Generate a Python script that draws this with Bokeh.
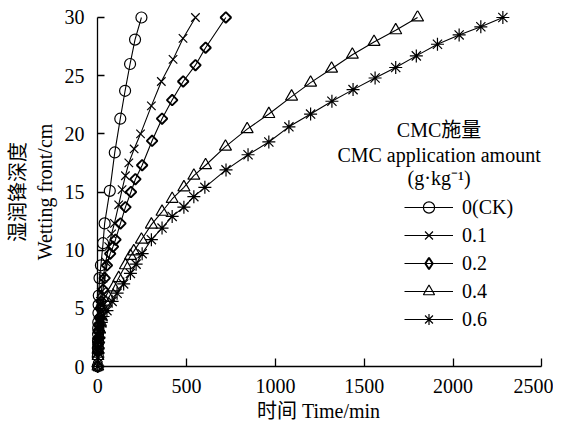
from math import pi
from bokeh.plotting import figure
from bokeh.models import Range1d, Legend, LegendItem, Label, FixedTicker, LinearAxis
from bokeh.embed import file_html
from bokeh.resources import INLINE

# CMC application amount 0 (CK)
t_ck = [0, 0.5, 1, 1.5, 2, 2.5, 3, 4, 5, 6, 10, 18, 30, 39, 68, 96, 127, 154, 182, 210, 246]
d_ck = [0, 0.9, 1.6, 2.2, 2.8, 3.3, 3.8, 4.6, 5.3, 6.1, 7.6, 8.7, 10.6, 12.3, 15.1, 18.4, 21.3, 23.7, 26.0, 28.1, 30.0]

# 0.1 g/kg
t_01 = [0, 1, 2, 3, 5, 7, 10, 15, 20, 30, 45, 62, 78, 94, 118, 137, 156, 175, 205, 241, 302, 358, 424, 480, 550]
d_01 = [0, 1.4, 2.1, 2.6, 3.4, 4.0, 4.7, 5.6, 6.4, 7.6, 9.0, 10.3, 11.4, 12.3, 13.9, 15.2, 16.4, 17.5, 18.7, 20.0, 22.4, 24.5, 26.4, 28.2, 30.0]

# 0.2 g/kg
t_02 = [0, 1, 2, 3, 5, 7, 10, 15, 20, 30, 39, 52, 70, 86, 100, 128, 156, 187, 212, 250, 306, 362, 419, 481, 550, 607, 721]
d_02 = [0, 1.3, 1.9, 2.4, 3.1, 3.6, 4.2, 5.0, 5.6, 6.6, 7.6, 8.7, 9.7, 10.3, 10.9, 12.3, 13.7, 15.0, 16.1, 17.3, 19.4, 21.3, 22.9, 24.5, 25.9, 27.4, 30.0]

# 0.4 g/kg
t_04 = [0, 1, 2, 3, 5, 7, 10, 15, 20, 30, 45, 62, 90, 118, 156, 184, 203, 246, 302, 362, 419, 485, 541, 607, 719, 841, 963, 1091, 1198, 1316, 1433, 1555, 1677, 1800]
d_04 = [0, 0.9, 1.4, 1.8, 2.3, 2.7, 3.2, 3.8, 4.3, 5.0, 5.5, 5.9, 6.8, 7.6, 8.7, 9.5, 9.9, 10.9, 12.2, 13.3, 14.4, 15.4, 16.4, 17.3, 18.9, 20.4, 21.7, 23.2, 24.4, 25.6, 26.8, 27.9, 28.9, 30.0]

# 0.6 g/kg
t_06 = [0, 1, 2, 3, 5, 7, 10, 15, 20, 30, 52, 81, 109, 146, 184, 216, 250, 302, 362, 419, 485, 541, 603, 722, 846, 963, 1076, 1198, 1318, 1437, 1561, 1677, 1793, 1912, 2034, 2156, 2280]
d_06 = [0, 0.8, 1.2, 1.6, 2.1, 2.5, 2.9, 3.4, 3.8, 4.3, 4.8, 5.6, 6.3, 7.1, 8.0, 8.8, 9.7, 10.9, 11.9, 12.9, 13.7, 14.6, 15.4, 16.9, 18.2, 19.3, 20.6, 21.7, 22.8, 23.8, 24.8, 25.7, 26.7, 27.7, 28.5, 29.2, 30.0]

series_labels = ["0(CK)", "0.1", "0.2", "0.4", "0.6"]
x_ticks = [0, 500, 1000, 1500, 2000, 2500]
y_ticks = [0, 5, 10, 15, 20, 25, 30]

FONT = "Liberation Serif, Noto Sans CJK SC"
FS = "20px"

p = figure(frame_width=454, frame_height=363, output_backend="svg", toolbar_location=None,
           x_range=Range1d(-35, 2520), y_range=Range1d(-0.6, 30.6),
           min_border_left=91, min_border_right=8, min_border_top=10, min_border_bottom=50,
           background_fill_color="white", border_fill_color="white")
p.outline_line_color = None
p.grid.visible = False

# label axes (at frame edges): text only
p.xaxis.ticker = FixedTicker(ticks=x_ticks)
p.yaxis.ticker = FixedTicker(ticks=y_ticks)
for ax in (p.xaxis[0], p.yaxis[0]):
    ax.axis_line_color = None
    ax.major_tick_line_color = None
    ax.minor_tick_line_color = None
    ax.major_tick_in = 0
    ax.major_tick_out = 0
    ax.major_label_text_font = FONT
    ax.major_label_text_font_size = FS
    ax.major_label_text_color = "black"
    ax.axis_label_text_font = FONT
    ax.axis_label_text_font_size = FS
    ax.axis_label_text_font_style = "normal"
    ax.axis_label_text_color = "black"
p.xaxis.major_label_standoff = 5
p.xaxis.axis_label = "时间 Time/min"
p.xaxis.axis_label_standoff = 4
p.yaxis.major_label_standoff = 7
p.yaxis.axis_label = "湿润锋深度\nWetting front/cm"
p.yaxis.axis_label_standoff = 6

# spine axes drawn at the data origin: line and ticks only
xspine = LinearAxis(ticker=FixedTicker(ticks=x_ticks), fixed_location=0, bounds=(0, 2500),
                    major_tick_in=8, major_tick_out=0, minor_tick_line_color=None,
                    axis_line_width=1.3, major_tick_line_width=1.3,
                    major_label_text_color=None, major_label_text_font_size="1px", major_label_standoff=0)
yspine = LinearAxis(ticker=FixedTicker(ticks=y_ticks), fixed_location=0, bounds=(0, 30),
                    major_tick_in=7, major_tick_out=0, minor_tick_line_color=None,
                    axis_line_width=1.3, major_tick_line_width=1.3,
                    major_label_text_color=None, major_label_text_font_size="1px", major_label_standoff=0)
p.add_layout(xspine, "below")
p.add_layout(yspine, "left")

styles = [
    (t_ck, d_ck, dict(marker="circle", size=11, line_width=1.2)),
    (t_01, d_01, dict(marker="x", size=12, line_width=1.2)),
    (t_02, d_02, dict(marker="square", size=7.5, angle=pi / 4, line_width=1.9)),
    (t_04, d_04, dict(marker="triangle", size=12, line_width=1.2)),
    (t_06, d_06, dict(marker="asterisk", size=13, line_width=1.2)),
]

items = []
for (tx, dy, st), lab in zip(styles, series_labels):
    lr = p.line(tx, dy, line_color="black", line_width=1.1)
    sr = p.scatter(tx, dy, line_color="black", fill_alpha=0, **st)
    if st["marker"] == "square":
        # legend glyph: a diamond (hidden renderer used only by the legend)
        sr = p.scatter(tx, dy, marker="diamond", line_color="black", fill_alpha=0,
                       line_width=1.9, visible=False)
    items.append(LegendItem(label=lab, renderers=[lr, sr]))

legend = Legend(items=items, location=(313, 40), orientation="vertical",
                glyph_width=49, glyph_height=28, label_height=28, spacing=0,
                label_standoff=9, padding=0, margin=0,
                border_line_color=None, background_fill_alpha=0,
                inactive_fill_alpha=0,
                label_text_font=FONT, label_text_font_size=FS, label_text_color="black")
p.add_layout(legend, "center")

title_lines = ["CMC施量", "CMC application amount", "(g·kg⁻¹)"]
title_y = [20.3, 18.15, 16.2]
for txt, yy in zip(title_lines, title_y):
    p.add_layout(Label(x=1921, y=yy, text=txt, text_align="center", text_baseline="middle",
                       text_font=FONT, text_font_size=FS, text_color="black"))

open("out.html", "w").write(file_html(p, INLINE))
